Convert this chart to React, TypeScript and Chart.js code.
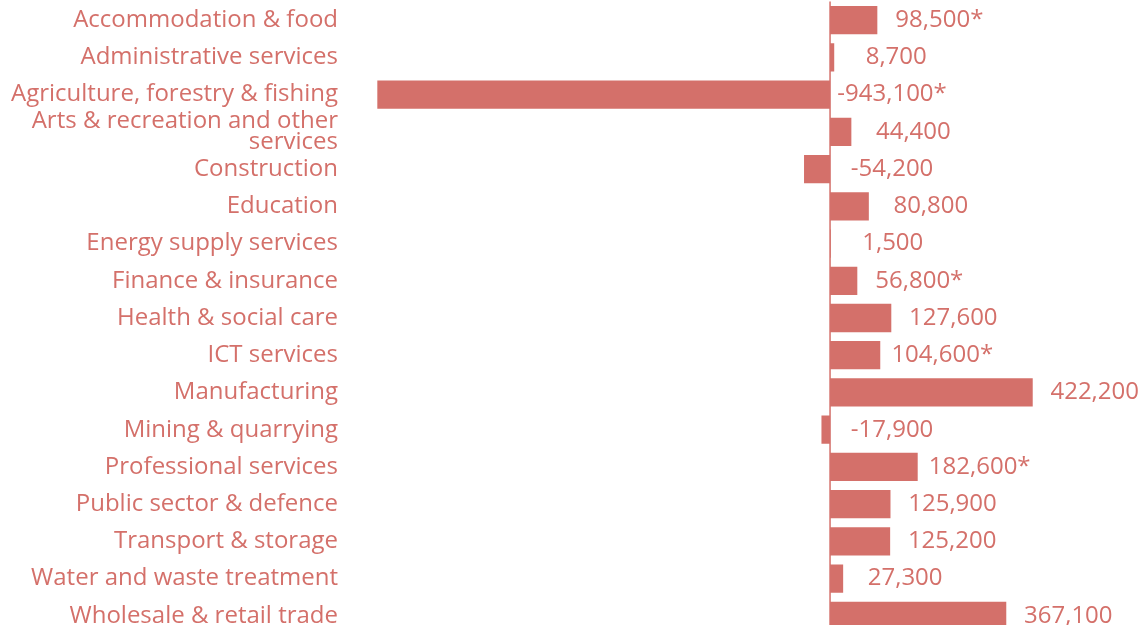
import React, { useEffect, useRef } from "react";
import { Chart, registerables } from "chart.js";

Chart.register(...registerables);

const categories: (string | string[])[] = [
  "Accommodation & food",
  "Administrative services",
  "Agriculture, forestry & fishing",
  ["Arts & recreation and other", "services"],
  "Construction",
  "Education",
  "Energy supply services",
  "Finance & insurance",
  "Health & social care",
  "ICT services",
  "Manufacturing",
  "Mining & quarrying",
  "Professional services",
  "Public sector & defence",
  "Transport & storage",
  "Water and waste treatment",
  "Wholesale & retail trade",
];

const values: number[] = [
  98500, 8700, -943100, 44400, -54200, 80800, 1500, 56800, 127600, 104600,
  422200, -17900, 182600, 125900, 125200, 27300, 367100,
];

const flagged: boolean[] = [
  true, false, true, false, false, false, false, true, false, true,
  false, false, true, false, false, false, false,
];

const COLOR = "rgb(212,112,106)";
const FONT = "'Open Sans', sans-serif";

const zeroLinePlugin = {
  id: "zeroLine",
  beforeDatasetsDraw(chart: any) {
    const x = chart.scales.x.getPixelForValue(0);
    const { ctx, chartArea } = chart;
    ctx.save();
    ctx.strokeStyle = COLOR;
    ctx.lineWidth = 1.5;
    ctx.beginPath();
    ctx.moveTo(x, chartArea.top);
    ctx.lineTo(x, chartArea.bottom);
    ctx.stroke();
    ctx.restore();
  },
};

const valueLabelPlugin = {
  id: "valueLabels",
  afterDatasetsDraw(chart: any) {
    const { ctx } = chart;
    const xs = chart.scales.x;
    const meta = chart.getDatasetMeta(0);
    ctx.save();
    ctx.fillStyle = COLOR;
    ctx.font = `24px ${FONT}`;
    ctx.textAlign = "center";
    ctx.textBaseline = "middle";
    meta.data.forEach((bar: any, i: number) => {
      const v = values[i];
      const x = xs.getPixelForValue(Math.max(0, v)) + 62;
      const text = v.toLocaleString("en-US") + (flagged[i] ? "*" : "");
      ctx.fillText(text, x, bar.y);
    });
    ctx.restore();
  },
};

export default function App() {
  const ref = useRef<HTMLCanvasElement | null>(null);
  useEffect(() => {
    if (!ref.current) return;
    const chart = new Chart(ref.current, {
      type: "bar",
      data: {
        labels: categories,
        datasets: [
          {
            data: values,
            backgroundColor: COLOR,
            borderWidth: 0,
            categoryPercentage: 1,
            barPercentage: 0.76,
          },
        ],
      },
      options: {
        indexAxis: "y",
        animation: false,
        responsive: false,
        layout: { padding: 0 },
        plugins: { legend: { display: false }, tooltip: { enabled: false } },
        scales: {
          x: {
            min: -1025000,
            max: 654000,
            display: false,
            grid: { display: false },
          },
          y: {
            afterFit(scale: any) {
              scale.width = 338;
            },
            border: { display: false },
            grid: { display: false, drawTicks: false },
            ticks: {
              color: COLOR,
              padding: 0,
              autoSkip: false,
              font: { family: FONT, size: 24, lineHeight: 0.88 },
            },
          },
        },
      },
      plugins: [zeroLinePlugin, valueLabelPlugin],
    });
    return () => chart.destroy();
  }, []);

  return (
    <div
      style={{
        position: "absolute",
        left: 0,
        top: 0,
        width: 1144,
        height: 625,
        overflow: "hidden",
        background: "#fff",
      }}
    >
      <canvas
        ref={ref}
        width={1144}
        height={654}
        style={{ display: "block", position: "absolute", top: -9, left: 0 }}
      />
    </div>
  );
}
